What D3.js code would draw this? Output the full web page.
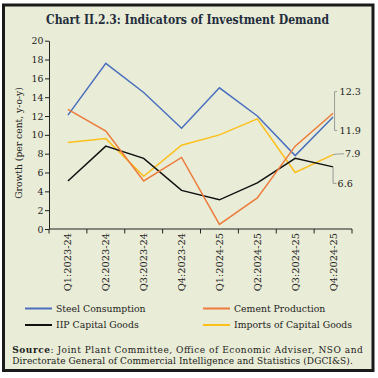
<!DOCTYPE html>
<html>
<head>
<meta charset="utf-8">
<script src="https://cdn.jsdelivr.net/npm/d3@7"></script>
<style>
html,body{margin:0;padding:0;background:#fff;}
svg{display:block;}
text{font-family:"DejaVu Serif",serif;fill:#222;}
</style>
</head>
<body>
<svg id="c" width="378" height="378"></svg>
<script>
const quarters = ["Q1:2023-24","Q2:2023-24","Q3:2023-24","Q4:2023-24","Q1:2024-25","Q2:2024-25","Q3:2024-25","Q4:2024-25"];
const steel   = [12.1, 17.6, 14.5, 10.7, 15.0, 12.0, 7.8, 11.9];
const cement  = [12.7, 10.4, 5.1, 7.6, 0.5, 3.3, 8.8, 12.3];
const iip     = [5.1, 8.8, 7.5, 4.1, 3.1, 4.9, 7.5, 6.6];
const imports = [9.2, 9.6, 5.6, 8.9, 10.0, 11.7, 6.0, 7.9];
const seriesNames = ["Steel Consumption","Cement Production","IIP Capital Goods","Imports of Capital Goods"];
const yTicks = [0,2,4,6,8,10,12,14,16,18,20];

const colors = {"Steel Consumption":"#4a6fbf","Cement Production":"#ec7b3c","IIP Capital Goods":"#111","Imports of Capital Goods":"#fdbf1a"};
const seriesData = {"Steel Consumption":steel,"Cement Production":cement,"IIP Capital Goods":iip,"Imports of Capital Goods":imports};

const svg = d3.select("#c");
svg.append("rect").attr("x",3.5).attr("y",5).attr("width",369.5).attr("height",365.5)
  .attr("fill","#e9ecd6").attr("stroke","#1a1a1a").attr("stroke-width",3);

svg.append("text").attr("x",187.5).attr("y",24).attr("text-anchor","middle")
  .attr("font-size",12).attr("font-weight","bold").attr("textLength",283).attr("lengthAdjust","spacingAndGlyphs")
  .style("fill","#1f2d3d")
  .text("Chart II.2.3: Indicators of Investment Demand");

const x = d3.scaleBand().domain(quarters).range([49,352]);
const y = d3.scaleLinear().domain([0,20]).range([229,40.7]);

// y axis
const ya = svg.append("g").attr("transform","translate(49,0)")
  .call(d3.axisLeft(y).tickValues(yTicks).tickSize(4).tickSizeOuter(0).tickPadding(1.5));
ya.selectAll("text").attr("font-size",9.4).style("font-family","DejaVu Serif").style("fill","#222");
ya.selectAll("line,path").attr("stroke","#222");

// x axis (ticks at band boundaries)
const xa = svg.append("g");
xa.append("line").attr("x1",x.range()[0]).attr("x2",x.range()[1]).attr("y1",y(0)).attr("y2",y(0)).attr("stroke","#222");
const bounds = quarters.map(q=>x(q)).concat([x.range()[1]]);
xa.selectAll("line.t").data(bounds).enter().append("line").attr("class","t")
  .attr("x1",d=>d).attr("x2",d=>d).attr("y1",y(0)).attr("y2",y(0)+4.5).attr("stroke","#222");
xa.selectAll("text").data(quarters).enter().append("text")
  .attr("transform",d=>`translate(${x(d)+x.bandwidth()/2+3.5},${y(0)+4}) rotate(-90)`)
  .attr("text-anchor","end").attr("font-size",9.8).text(d=>d);

svg.append("text").attr("transform","translate(21.5,143) rotate(-90)").attr("text-anchor","middle")
  .attr("font-size",9.2).text("Growth (per cent, y-o-y)");

const line = d3.line().x((d,i)=>x(quarters[i])+x.bandwidth()/2).y(d=>y(d));
const order = ["Steel Consumption","Imports of Capital Goods","IIP Capital Goods","Cement Production"];
order.forEach(n=>{
  svg.append("path").datum(seriesData[n]).attr("d",line).attr("fill","none")
    .attr("stroke",colors[n]).attr("stroke-width",1.5).attr("stroke-linejoin","miter");
});

// end annotations
const lastX = x(quarters[7])+x.bandwidth()/2;
const ann = svg.append("g").attr("stroke","#999").attr("fill","none").attr("stroke-width",1);
const topY = y(cement[7]) - 21.5, botY = y(steel[7]) + 13.5;
ann.append("path").attr("d",`M${lastX+4},${topY} H${lastX+1.5} V${botY} H${lastX+4}`);
const yi = y(imports[7]);
ann.append("path").attr("d",`M${lastX},${yi} Q${lastX+3},${yi-0.8} ${lastX+11},${yi-0.8}`);
const yb = y(iip[7]);
ann.append("path").attr("d",`M${lastX},${yb} V${yb+16.5} H${lastX+3.5}`);
const lbl = (t,xx,yy)=>svg.append("text").attr("x",xx).attr("y",yy).attr("dy","0.35em").attr("font-size",9.6).text(t);
lbl(cement[7].toFixed(1), lastX+6.5, topY);
lbl(steel[7].toFixed(1), lastX+6.5, botY);
lbl(imports[7].toFixed(1), lastX+12, yi-0.8);
lbl(iip[7].toFixed(1), lastX+4.5, yb+16.5);

// legend
const leg = [
  {n:"Steel Consumption", x:25, y:308.5},
  {n:"Cement Production", x:203, y:308.5},
  {n:"IIP Capital Goods", x:25, y:325},
  {n:"Imports of Capital Goods", x:203, y:325}
];
leg.forEach(l=>{
  svg.append("line").attr("x1",l.x).attr("x2",l.x+27).attr("y1",l.y).attr("y2",l.y)
    .attr("stroke",colors[l.n]).attr("stroke-width",2);
  svg.append("text").attr("x",l.x+31).attr("y",l.y).attr("dy","0.35em").attr("font-size",9.3).text(l.n);
});

// source
const s1 = svg.append("text").attr("x",12.3).attr("y",353).attr("font-size",9).attr("textLength",350.5).attr("lengthAdjust","spacing");
s1.append("tspan").attr("font-weight","bold").text("Source");
s1.append("tspan").text(": Joint Plant Committee, Office of Economic Adviser, NSO and");
svg.append("text").attr("x",12.3).attr("y",363.8).attr("font-size",9).attr("textLength",340.5).attr("lengthAdjust","spacing")
  .text("Directorate General of Commercial Intelligence and Statistics (DGCI&S).");
</script>
</body>
</html>
